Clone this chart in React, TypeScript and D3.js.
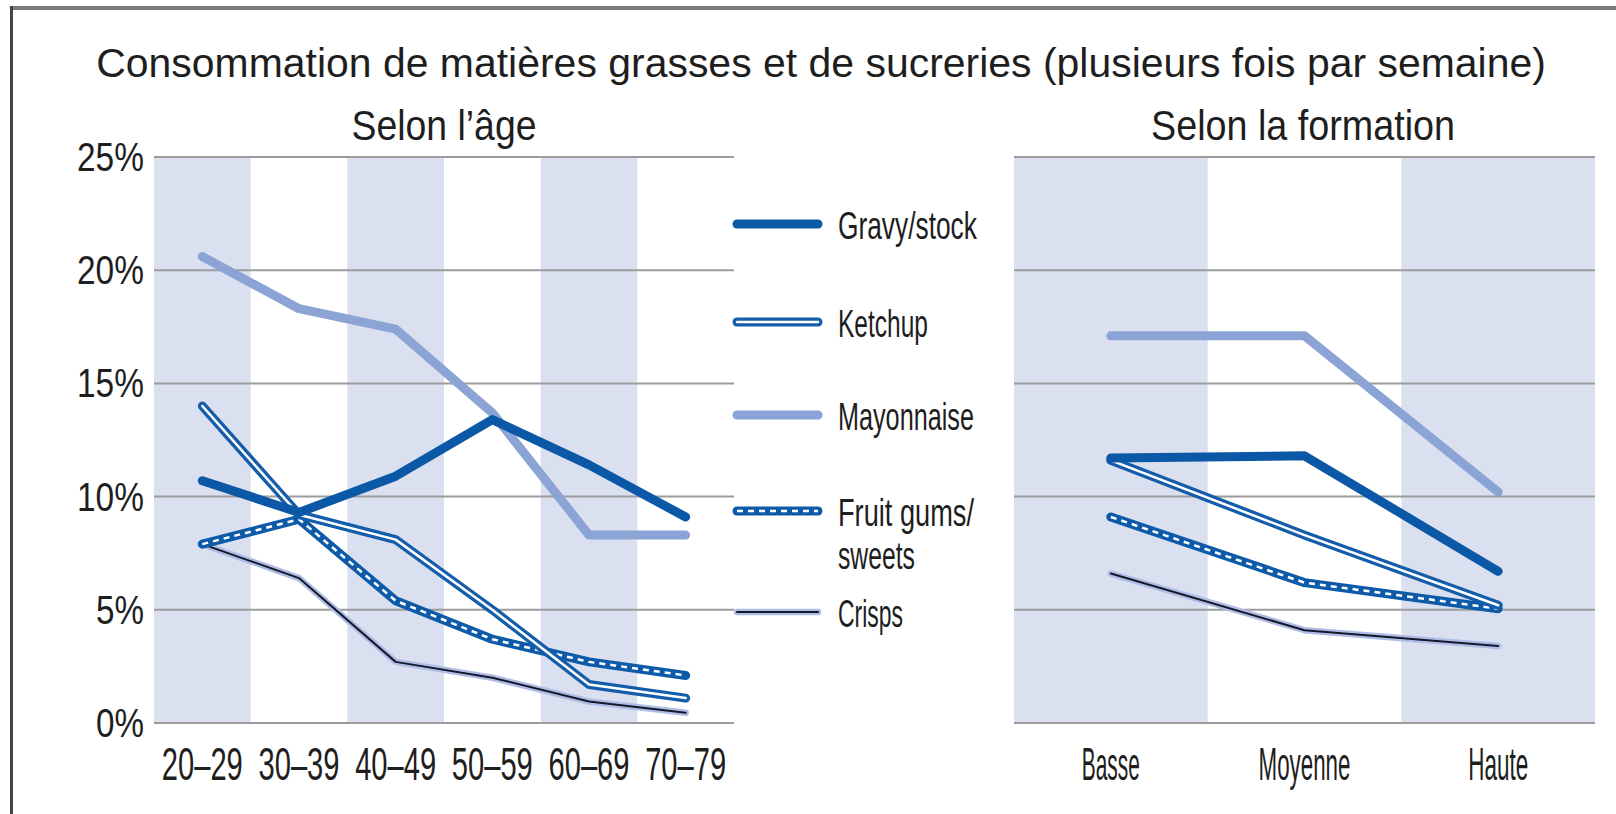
import React, { useLayoutEffect, useRef, useState } from "react";
import * as d3 from "d3";

// categories
const ageGroups = ["20–29", "30–39", "40–49", "50–59", "60–69", "70–79"];
const educationLevels = ["Basse", "Moyenne", "Haute"];
const yTicks = [0, 5, 10, 15, 20, 25];

// values in %
const gravyByAge = [10.7, 9.3, 10.9, 13.4, 11.4, 9.1];
const ketchupByAge = [14.0, 9.2, 8.1, 5.0, 1.7, 1.1];
const mayoByAge = [20.6, 18.3, 17.4, 13.7, 8.3, 8.3];
const sweetsByAge = [7.9, 9.0, 5.4, 3.7, 2.7, 2.1];
const crispsByAge = [7.9, 6.4, 2.7, 2.0, 0.95, 0.45];

const gravyByEdu = [11.7, 11.8, 6.7];
const ketchupByEdu = [11.6, 8.3, 5.2];
const mayoByEdu = [17.1, 17.1, 10.2];
const sweetsByEdu = [9.1, 6.2, 5.05];
const crispsByEdu = [6.6, 4.1, 3.4];

const seriesNames = ["Gravy/stock", "Ketchup", "Mayonnaise", "Fruit gums/", "Crisps"];

const FONT = "'Liberation Sans', Arial, sans-serif";
const BAND = "#dbe0f1";
const GRID = "#9c9c9c";

type Kind = "gravy" | "ketchup" | "mayo" | "sweets" | "crisps";

// text squeezed horizontally to a given width (the original uses a condensed face)
function FitText(props: {
  x: number
  y: number
  width: number
  size: number
  anchor?: "start" | "middle" | "end"
  children: string
}) {
  const ref = useRef<SVGTextElement>(null)
  const [sx, setSx] = useState(1)
  useLayoutEffect(() => {
    if (!ref.current) return
    const w = ref.current.getComputedTextLength()
    if (w > 0) setSx(props.width / w)
  }, [props.width, props.children, props.size])
  return (
    <text
      ref={ref}
      x={0}
      y={0}
      transform={`translate(${props.x},${props.y}) scale(${sx},1)`}
      textAnchor={props.anchor || "start"}
      fontFamily={FONT}
      fontSize={props.size}
      fill="#1e1e1e"
    >
      {props.children}
    </text>
  )
}

function Stroke({ d, kind }: { d: string; kind: Kind }) {
  const common = { fill: "none", strokeLinecap: "round" as const, strokeLinejoin: "round" as const };
  if (kind === "gravy") return <path d={d} {...common} stroke="#0b58a6" strokeWidth={9} />;
  if (kind === "mayo") return <path d={d} {...common} stroke="#8ca4d5" strokeWidth={9} />;
  if (kind === "ketchup")
    return (
      <g>
        <path d={d} {...common} stroke="#145dab" strokeWidth={9} />
        <path d={d} {...common} stroke="#ffffff" strokeWidth={2.5} />
      </g>
    );
  if (kind === "sweets")
    return (
      <g>
        <path d={d} {...common} stroke="#0d5aa8" strokeWidth={9} />
        <path d={d} fill="none" strokeLinejoin="round" stroke="#ffffff" strokeWidth={2.5} strokeDasharray="6 5" />
      </g>
    );
  return (
    <g>
      <path d={d} {...common} stroke="#aebde6" strokeWidth={6.5} />
      <path d={d} {...common} stroke="#15182a" strokeWidth={2} />
    </g>
  );
}

interface PanelProps {
  cats: string[];
  series: { kind: Kind; values: number[] }[];
  x0: number;
  x1: number;
  showY: boolean;
  labelSize: number;
  labelWidths: number[];
}

const yScale = d3.scaleLinear().domain([0, 25]).range([723, 157]);

function Panel(props: PanelProps) {
  const { cats, series, x0, x1, showY } = props;
  const x = d3.scaleBand<string>().domain(cats).range([x0, x1]);
  const bw = x.bandwidth();
  const line = d3
    .line<number>()
    .x((_, i) => (x(cats[i]) as number) + bw / 2)
    .y((v) => yScale(v));

  return (
    <g>
      {cats.map((c, i) =>
        i % 2 === 0 ? (
          <rect key={c} x={x(c)} y={yScale(25)} width={bw} height={yScale(0) - yScale(25)} fill={BAND} />
        ) : null
      )}
      {yTicks.map((t) => (
        <line key={t} x1={x0} x2={x1} y1={yScale(t)} y2={yScale(t)} stroke={GRID} strokeWidth={2} />
      ))}
      {showY &&
        yTicks.map((t) => (
          <FitText key={"l" + t} x={144} y={yScale(t) + 14} anchor="end" size={40} width={t < 10 ? 48 : 67}>
            {t + "%"}
          </FitText>
        ))}
      {series.map((s) => (
        <Stroke key={s.kind} d={line(s.values) as string} kind={s.kind} />
      ))}
      {cats.map((c, i) => (
        <FitText key={"x" + c} x={(x(c) as number) + bw / 2} y={780} anchor="middle"
          size={props.labelSize} width={props.labelWidths[i]}>
          {c}
        </FitText>
      ))}
    </g>
  );
}

const legendKinds: Kind[] = ["gravy", "ketchup", "mayo", "sweets", "crisps"];
const legendY = [224, 322, 415, 511, 612];
const legendWidths = [139, 90, 136, 136, 65];

export default function App() {
  const ageSeries = [
    { kind: "mayo" as Kind, values: mayoByAge },
    { kind: "crisps" as Kind, values: crispsByAge },
    { kind: "sweets" as Kind, values: sweetsByAge },
    { kind: "ketchup" as Kind, values: ketchupByAge },
    { kind: "gravy" as Kind, values: gravyByAge },
  ];
  const eduSeries = [
    { kind: "mayo" as Kind, values: mayoByEdu },
    { kind: "crisps" as Kind, values: crispsByEdu },
    { kind: "sweets" as Kind, values: sweetsByEdu },
    { kind: "ketchup" as Kind, values: ketchupByEdu },
    { kind: "gravy" as Kind, values: gravyByEdu },
  ];

  return (
    <svg width={1616} height={814} style={{ position: "absolute", left: 0, top: 0, background: "#fff" }}>
      <rect x={0} y={0} width={1616} height={814} fill="#fff" />
      {/* frame */}
      <line x1={10} x2={1616} y1={8} y2={8} stroke="#7a7a7a" strokeWidth={4} />
      <line x1={11.5} x2={11.5} y1={6} y2={814} stroke="#444" strokeWidth={3} />

      <FitText x={821} y={77} anchor="middle" size={41} width={1450}>
        Consommation de matières grasses et de sucreries (plusieurs fois par semaine)
      </FitText>
      <FitText x={444} y={140} anchor="middle" size={42} width={185}>
        Selon l’âge
      </FitText>
      <FitText x={1303} y={140} anchor="middle" size={42} width={304}>
        Selon la formation
      </FitText>

      <Panel cats={ageGroups} series={ageSeries} x0={154} x1={734} showY={true}
        labelSize={46} labelWidths={ageGroups.map(() => 81)} />
      <Panel cats={educationLevels} series={eduSeries} x0={1014} x1={1595} showY={false}
        labelSize={46} labelWidths={[58, 92, 60]} />

      {/* legend */}
      {legendKinds.map((k, i) => (
        <g key={k}>
          <Stroke d={`M737,${legendY[i]}L818,${legendY[i]}`} kind={k} />
          <FitText x={838} y={legendY[i] + 15} size={38} width={legendWidths[i]}>
            {seriesNames[i]}
          </FitText>
        </g>
      ))}
      <FitText x={838} y={legendY[3] + 58} size={38} width={77}>
        sweets
      </FitText>
    </svg>
  );
}
